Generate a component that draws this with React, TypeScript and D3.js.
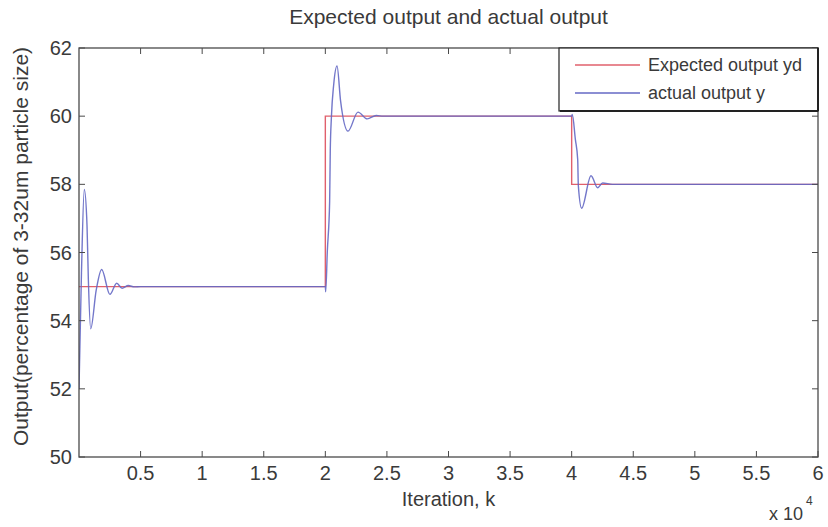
import React from "react";
import * as d3 from "d3";

const title = "Expected output and actual output";
const xLabel = "Iteration, k";
const yLabel = "Output(percentage of 3-32um particle size)";
const legendLabels = ["Expected output yd", "actual output y"];

const xTicks = [5000, 10000, 15000, 20000, 25000, 30000, 35000, 40000, 45000, 50000, 55000, 60000];
const xTickLabels = ["0.5", "1", "1.5", "2", "2.5", "3", "3.5", "4", "4.5", "5", "5.5", "6"];
const yTicks = [50, 52, 54, 56, 58, 60, 62];

// Expected output (step setpoints)
const expectedK = [0, 20000, 40000, 60000];
const expectedY = [55, 60, 58, 58];

// Actual output
const actualK = [
  0, 200, 430, 650, 760, 950, 1400, 1840, 2510, 3060, 3500, 4000, 4500, 5000, 20000,
  20030, 20160, 20350, 20400, 20490, 20680, 20950, 21240, 21840, 22650, 23400, 24130, 24700, 40000,
  40050, 40300, 40490, 40540, 40810, 41570, 42110, 42510, 43320, 60000,
];
const actualY = [
  52.0, 55.4, 57.85, 56.8, 55.2, 53.76, 54.9, 55.5, 54.77, 55.1, 54.95, 55.03, 54.99, 55.0, 55.0,
  54.85, 56.03, 57.5, 58.97, 59.95, 60.93, 61.47, 60.44, 59.56, 60.12, 59.92, 60.02, 60.0, 60.0,
  60.05, 59.32, 58.73, 57.97, 57.3, 58.25, 57.9, 58.04, 58.0, 58.0,
];

const W = 828;
const H = 527;
const L = 79, R = 818, T = 48, B = 457;
const textColor = "#3a3a3a";
const axisColor = "#4a4a4a";
const redColor = "#e0606c";
const blueColor = "#6468c4";
const font = "Arial, 'Liberation Sans', Helvetica, sans-serif";

export default function App() {
  const x = d3.scaleLinear().domain([0, 60000]).range([L, R]);
  const y = d3.scaleLinear().domain([50, 62]).range([B, T]);

  const expPts = expectedK.map((k, i) => [k, expectedY[i]] as [number, number]);
  const actPts = actualK.map((k, i) => [k, actualY[i]] as [number, number]);

  const stepLine = d3
    .line<[number, number]>()
    .x((d) => x(d[0]))
    .y((d) => y(d[1]))
    .curve(d3.curveStepAfter);
  const actLine = d3
    .line<[number, number]>()
    .x((d) => x(d[0]))
    .y((d) => y(d[1]))
    .curve(d3.curveMonotoneX);

  const tickLen = 6;

  return (
    <svg
      width={W}
      height={H}
      style={{ position: "fixed", left: 0, top: 0, background: "#fff" }}
      fontFamily={font}
    >
      <rect x={0} y={0} width={W} height={H} fill="#fff" />
      <defs>
        <clipPath id="plotclip">
          <rect x={L} y={T - 2} width={R - L} height={B - T + 4} />
        </clipPath>
      </defs>
      <text x={(L + R) / 2} y={24} textAnchor="middle" fontSize={21} fill={textColor}>
        {title}
      </text>
      <g clipPath="url(#plotclip)">
        <path d={stepLine(expPts) || ""} fill="none" stroke={redColor} strokeWidth={1.4} />
        <path d={actLine(actPts) || ""} fill="none" stroke={blueColor} strokeWidth={1.4} strokeOpacity={0.9} />
      </g>
      <rect x={L} y={T} width={R - L} height={B - T} fill="none" stroke={axisColor} strokeWidth={1.3} />
      {xTicks.map((t, i) => (
        <g key={"xt" + i}>
          <line x1={x(t)} x2={x(t)} y1={B} y2={B - tickLen} stroke={axisColor} />
          <line x1={x(t)} x2={x(t)} y1={T} y2={T + tickLen} stroke={axisColor} />
          <text x={x(t)} y={480} textAnchor="middle" fontSize={20} fill={textColor}>
            {xTickLabels[i]}
          </text>
        </g>
      ))}
      {yTicks.map((t, i) => (
        <g key={"yt" + i}>
          <line x1={L} x2={L + tickLen} y1={y(t)} y2={y(t)} stroke={axisColor} />
          <line x1={R} x2={R - tickLen} y1={y(t)} y2={y(t)} stroke={axisColor} />
          <text x={72} y={y(t) + 7} textAnchor="end" fontSize={20} fill={textColor}>
            {t}
          </text>
        </g>
      ))}
      <text x={(L + R) / 2} y={506} textAnchor="middle" fontSize={20} fill={textColor}>
        {xLabel}
      </text>
      <text
        transform={`translate(28, ${(T + B) / 2 - 6}) rotate(-90)`}
        textAnchor="middle"
        fontSize={21}
        fill={textColor}
      >
        {yLabel}
      </text>
      <text x={769} y={520} fontSize={18} fill={textColor}>
        x 10
      </text>
      <text x={806} y={505} fontSize={12} fill={textColor}>
        4
      </text>
      <rect x={559} y={T} width={R - 559} height={63} fill="#fff" stroke="#222" strokeWidth={1.2} />
      <line x1={560} x2={R} y1={T + 63} y2={T + 63} stroke="#222" strokeWidth={2} />
      <line x1={R} x2={R} y1={T} y2={T + 63} stroke="#222" strokeWidth={2} />
      <line x1={575} x2={640} y1={65} y2={65} stroke={redColor} strokeWidth={1.4} />
      <line x1={575} x2={640} y1={93} y2={93} stroke={blueColor} strokeWidth={1.4} />
      <text x={648} y={71} fontSize={18} fill={textColor}>
        {legendLabels[0]}
      </text>
      <text x={648} y={99} fontSize={18} fill={textColor}>
        {legendLabels[1]}
      </text>
    </svg>
  );
}
